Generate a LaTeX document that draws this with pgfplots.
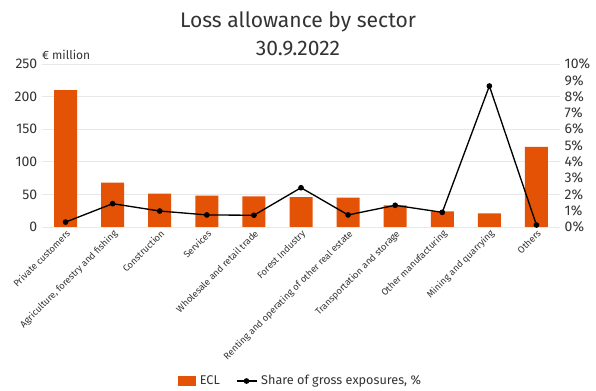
\documentclass[border=0pt]{standalone}
\usepackage{fontspec}
\setmainfont{Fira Sans}
\usepackage{pgfplots}
\pgfplotsset{compat=1.18}
\definecolor{ecl}{HTML}{E35205}
\definecolor{txt}{HTML}{333333}
\begin{document}
\begin{tikzpicture}
\useasboundingbox (0,0) rectangle (447pt,293.25pt);
\node[font=\fontsize{15.8}{18}\selectfont, text=txt] at (223.5pt,277pt) {Loss allowance by sector};
\node[font=\fontsize{15.8}{18}\selectfont, text=txt] at (223.5pt,257pt) {30.9.2022};
\node[font=\fontsize{9}{10}\selectfont, text=txt, anchor=west] at (28pt,252pt) {€ million};
\begin{axis}[
  at={(31.5pt,123pt)}, anchor=south west, scale only axis,
  width=388.5pt, height=122.25pt,
  xmin=-0.5, xmax=10.5, ymin=0, ymax=250,
  ytick={0,50,...,250},
  ymajorgrids, grid style={gray!18, line width=0.6pt},
  axis line style={draw=none}, tick style={draw=none},
  xtick={0,...,10},
  xticklabels={Private customers,{Agriculture, forestry and fishing},Construction,Services,Wholesale and retail trade,Forest Industry,Renting and operating of other real estate,Transportation and storage,Other manufacturing,Mining and quarrying,Others},
  x tick label style={rotate=45, anchor=north east, font=\fontsize{7}{8}\selectfont, text=txt, inner sep=1pt},
  y tick label style={font=\fontsize{10.5}{12}\selectfont, text=txt},
  /pgf/number format/assume math mode=true,
]
\addplot[ybar, bar width=17.25pt, fill=ecl, draw=none] coordinates {
(0,210) (1,68) (2,51) (3,48) (4,47) (5,46) (6,45) (7,33) (8,24) (9,21) (10,123)};
\end{axis}
\begin{axis}[
  at={(31.5pt,123pt)}, anchor=south west, scale only axis,
  width=388.5pt, height=122.25pt,
  xmin=-0.5, xmax=10.5, ymin=0, ymax=10,
  axis y line*=right, axis x line=none,
  axis line style={draw=none}, tick style={draw=none},
  ytick={0,...,10},
  yticklabels={0\%,1\%,2\%,3\%,4\%,5\%,6\%,7\%,8\%,9\%,10\%},
  y tick label style={font=\fontsize{10.5}{12}\selectfont, text=txt},
  legend columns=2,
  legend style={at={(0.5,-0.945)}, anchor=center, draw=none, fill=none,
    font=\fontsize{9.5}{11}\selectfont, text=txt, inner xsep=1pt,
    /tikz/every odd column/.append style={column sep=1pt},
    /tikz/every even column/.append style={column sep=10pt}},
]
\addlegendimage{legend image code/.code={\fill[ecl] (0pt,-3.3pt) rectangle (12.75pt,3.3pt);}}
\addlegendentry{ECL}
\addplot[black, line width=1pt, mark=*, mark size=1.6pt, legend image code/.code={
  \draw[black, line width=1pt] (0pt,0pt) -- (15pt,0pt);
  \fill[black] (7.5pt,0pt) circle (1.6pt);}] coordinates {
(0,0.3) (1,1.43) (2,0.98) (3,0.74) (4,0.72) (5,2.41) (6,0.74) (7,1.33) (8,0.9) (9,8.65) (10,0.12)};
\addlegendentry{Share of gross exposures, \%}
\end{axis}
\end{tikzpicture}
\end{document}
